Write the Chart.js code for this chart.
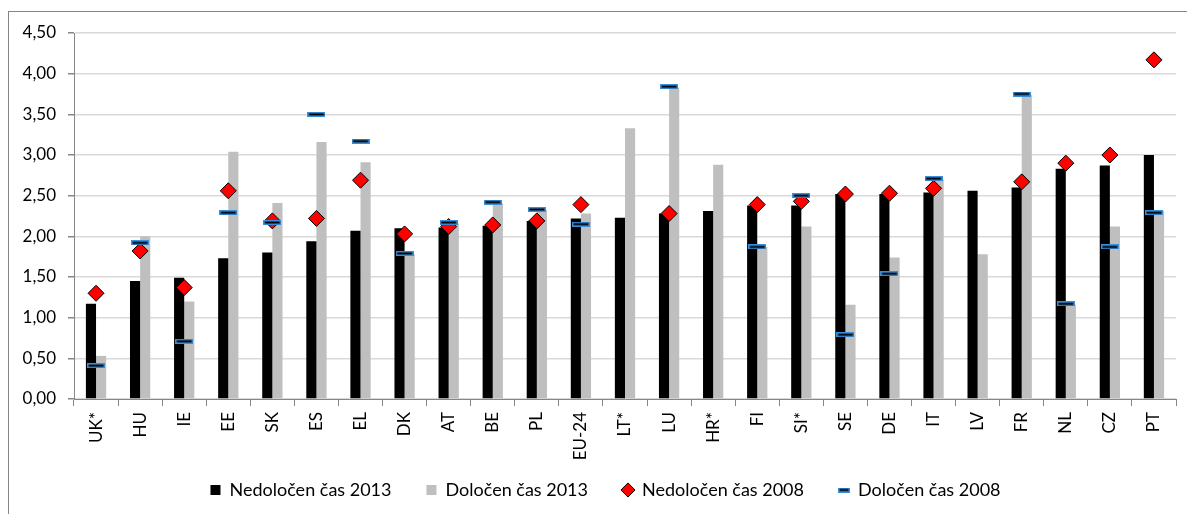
<!DOCTYPE html>
<html>
<head>
<meta charset="utf-8">
<script src="https://cdn.jsdelivr.net/npm/chart.js@4.4.1/dist/chart.umd.min.js"></script>
<style>
    body { margin: 0; background: #fff; }
    #frame { position: absolute; left: 8px; top: 11px; width: 1200px; height: 600px; border: 1px solid #868686; }
    #chart { position: absolute; left: 0; top: 0; }
</style>
</head>
<body>
<div id="frame"></div>
<canvas id="chart" width="1187" height="514"></canvas>
<script>
var countries = ['UK*', 'HU', 'IE', 'EE', 'SK', 'ES', 'EL', 'DK', 'AT', 'BE', 'PL', 'EU-24', 'LT*',
    'LU', 'HR*', 'FI', 'SI*', 'SE', 'DE', 'IT', 'LV', 'FR', 'NL', 'CZ', 'PT'];

var nedolocen2013 = [1.17, 1.45, 1.49, 1.73, 1.80, 1.94, 2.07, 2.10, 2.11, 2.13, 2.19, 2.22, 2.23,
    2.28, 2.31, 2.38, 2.38, 2.52, 2.52, 2.54, 2.56, 2.60, 2.83, 2.87, 3.00];
var dolocen2013 = [0.53, 2.00, 1.20, 3.04, 2.41, 3.16, 2.91, 1.78, 2.16, 2.41, 2.32, 2.28, 3.33,
    3.83, 2.88, 1.87, 2.12, 1.16, 1.74, 2.70, 1.78, 3.74, 1.16, 2.12, 2.31];
var nedolocen2008 = [1.30, 1.82, 1.37, 2.56, 2.19, 2.22, 2.69, 2.03, 2.12, 2.14, 2.19, 2.39, null,
    2.28, null, 2.39, 2.43, 2.52, 2.53, 2.59, null, 2.67, 2.90, 3.00, 4.17];
var dolocen2008 = [0.41, 1.92, 0.71, 2.29, 2.17, 3.50, 3.17, 1.79, 2.17, 2.42, 2.33, 2.15, null,
    3.84, null, 1.87, 2.50, 0.79, 1.54, 2.71, null, 3.75, 1.17, 1.87, 2.29];

var yTicks = [0, 0.5, 1, 1.5, 2, 2.5, 3, 3.5, 4, 4.5];

// marker for "Določen čas 2008": black dash with blue outline
function makeDash(w, h) {
    var c = document.createElement('canvas');
    c.width = w;
    c.height = h;
    var g = c.getContext('2d');
    g.fillStyle = '#3a8fdc';
    g.fillRect(0, 0, w, h);
    g.fillStyle = '#000';
    g.fillRect(1.5, 1.5, w - 3, h - 3);
    return c;
}
var dash = makeDash(18, 5);
var legendDash = makeDash(12, 5);

var fontFamily = 'Lato, "Open Sans", sans-serif';

// scale labels are clipped to the scale box, give them room
var unclip = {
    id: 'unclip',
    afterLayout: function (chart) {
        chart.scales.x.bottom = chart.height;
        chart.scales.y.left = 0;
    }
};

new Chart(document.getElementById('chart').getContext('2d'), {
    type: 'bar',
    data: {
        labels: countries,
        datasets: [{
            label: 'Nedoločen čas 2013',
            data: nedolocen2013,
            backgroundColor: '#000000',
            pointStyle: 'rect',
            categoryPercentage: 0.46,
            barPercentage: 1.0,
            order: 2
        }, {
            label: 'Določen čas 2013',
            data: dolocen2013,
            backgroundColor: '#bfbfbf',
            pointStyle: 'rect',
            categoryPercentage: 0.46,
            barPercentage: 1.0,
            order: 3
        }, {
            type: 'line',
            label: 'Nedoločen čas 2008',
            data: nedolocen2008,
            showLine: false,
            pointStyle: 'rectRot',
            pointRadius: 8,
            pointHoverRadius: 8,
            backgroundColor: '#ff0000',
            borderColor: '#000000',
            pointBorderWidth: 1,
            borderWidth: 1,
            order: 1
        }, {
            type: 'line',
            label: 'Določen čas 2008',
            data: dolocen2008,
            showLine: false,
            pointStyle: dash,
            backgroundColor: '#000000',
            borderColor: '#3a8fdc',
            order: 0
        }]
    },
    options: {
        responsive: false,
        animation: false,
        devicePixelRatio: 1,
        layout: {
            padding: { left: 35, right: 11, top: 33, bottom: 5 }
        },
        plugins: {
            tooltip: { enabled: false },
            legend: {
                position: 'bottom',
                labels: {
                    usePointStyle: true,
                    boxWidth: 10,
                    boxHeight: 10,
                    padding: 35,
                    color: '#000',
                    font: { family: fontFamily, size: 18 },
                    generateLabels: function (chart) {
                        var items = Chart.defaults.plugins.legend.labels.generateLabels(chart);
                        items.forEach(function (item) {
                            if (item.datasetIndex === 3) {
                                item.pointStyle = legendDash;
                            }
                        });
                        return items;
                    },
                    sort: function (a, b) {
                        return a.datasetIndex - b.datasetIndex;
                    }
                }
            }
        },
        scales: {
            x: {
                grid: {
                    drawOnChartArea: false,
                    drawTicks: true,
                    tickLength: 7,
                    color: '#868686'
                },
                border: { color: '#868686', width: 1 },
                ticks: {
                    minRotation: 90,
                    maxRotation: 90,
                    autoSkip: false,
                    padding: 6,
                    color: '#000',
                    font: { family: fontFamily, size: 17 }
                },
                afterFit: function (scale) {
                    scale.height = 47;
                }
            },
            y: {
                min: 0,
                max: 4.5,
                afterBuildTicks: function (scale) {
                    scale.ticks = yTicks.map(function (v) { return { value: v }; });
                },
                grid: {
                    color: '#d9d9d9',
                    tickColor: '#868686',
                    tickLength: 6,
                    lineWidth: 1.5
                },
                border: { color: '#868686', width: 1 },
                ticks: {
                    padding: 12,
                    color: '#000',
                    font: { family: fontFamily, size: 17 },
                    callback: function (value) {
                        return value.toFixed(2).replace('.', ',');
                    }
                },
                afterFit: function (scale) {
                    scale.width = 39;
                }
            }
        }
    },
    plugins: [unclip]
});
</script>
</body>
</html>
